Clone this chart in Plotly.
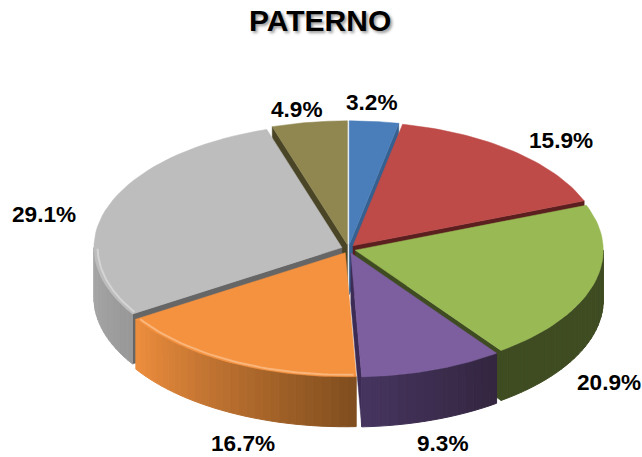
import math
import plotly.graph_objects as go

TITLE = "PATERNO"
values = [3.2, 15.9, 20.9, 9.3, 16.7, 29.1, 4.9]
top_colors = ["#4a7ebb", "#be4b48", "#98b954", "#7d5fa0", "#f59240", "#bdbdbd", "#8f8650"]
wall_left = ["#3a6090", "#7a2a28", "#3f4c22", "#46345f", "#ee8e3e", "#a8a8a8", "#5a5430"]
wall_right = ["#3a6090", "#7a2a28", "#3f4c22", "#33263f", "#7f4d1e", "#989898", "#5a5430"]
cut_colors = ["#35608f", "#5a1f1e", "#3f4c22", "#3c2c55", "#7f4d1e", "#666666", "#4a4526"]
rim_colors = [None, None, None, None, "#f9b57a", "#d4d4d4", None]
label_pos = [(372, 102), (561, 140), (609, 382), (443, 443), (243, 443), (44, 214), (297, 109)]
labels = ["%.1f%%" % v for v in values]
draw_order = [6, 0, 1, 5, 2, 4, 3]

CX, CY, RX, RY, DEPTH, EXPLODE = 348.5, 249, 248, 124, 50, 7


def mix(a, b, t):
    pa = [int(a[i:i + 2], 16) for i in (1, 3, 5)]
    pb = [int(b[i:i + 2], 16) for i in (1, 3, 5)]
    return "#%02x%02x%02x" % tuple(round(x + (y - x) * t) for x, y in zip(pa, pb))


def arc(ax, ay, t0, t1, k=1.0, n=40):
    return [(ax + k * RX * math.sin(t0 + (t1 - t0) * i / n),
             ay - k * RY * math.cos(t0 + (t1 - t0) * i / n)) for i in range(n + 1)]


def poly(fig, pts, color, width=1.0):
    xs = [p[0] for p in pts] + [pts[0][0]]
    ys = [p[1] for p in pts] + [pts[0][1]]
    fig.add_trace(go.Scatter(x=xs, y=ys, mode="lines", fill="toself", fillcolor=color,
                             line=dict(color=color, width=width), hoverinfo="skip", showlegend=False))


fig = go.Figure()
total = sum(values)
edges = [0]
for v in values:
    edges.append(edges[-1] + v / total * 2 * math.pi)

for i in draw_order:
    t0, t1 = edges[i], edges[i + 1]
    mid = (t0 + t1) / 2
    ax = CX + EXPLODE * math.sin(mid)
    ay = CY - EXPLODE * math.cos(mid) * 0.6
    for t, visible in ((t0, math.sin(t0) < -0.02), (t1, math.sin(t1) > 0.02)):
        if visible:
            ex, ey = ax + RX * math.sin(t), ay - RY * math.cos(t)
            poly(fig, [(ax, ay), (ex, ey), (ex, ey + DEPTH), (ax, ay + DEPTH)], cut_colors[i], 0.5)
    a = max(t0, math.pi / 2)
    b = min(t1, 3 * math.pi / 2)
    if b > a:
        n = max(2, int((b - a) / math.radians(2)))
        for k in range(n):
            s0, s1 = a + (b - a) * k / n, a + (b - a) * (k + 1) / n
            up = arc(ax, ay, s0, s1, n=3)
            low = [(x, y + DEPTH) for x, y in reversed(up)]
            poly(fig, up + low, mix(wall_right[i], wall_left[i], (k + 0.5) / n))
    poly(fig, [(ax, ay)] + arc(ax, ay, t0, t1), top_colors[i], 0.5)
    if rim_colors[i]:
        rim = arc(ax, ay, max(t0, math.pi / 2) + 0.01, min(t1, 3 * math.pi / 2) - 0.01, k=0.985)
        fig.add_trace(go.Scatter(x=[p[0] for p in rim], y=[p[1] for p in rim], mode="lines",
                                 line=dict(color=rim_colors[i], width=2),
                                 hoverinfo="skip", showlegend=False))

annotations = [dict(x=x, y=y, xref="x", yref="y", text="<b>%s</b>" % t, showarrow=False,
                    font=dict(family="Liberation Sans", size=22.6, color="#000000"))
               for (x, y), t in zip(label_pos, labels)]
annotations.append(dict(x=320, y=20, xref="x", yref="y", text="<b>%s</b>" % TITLE, showarrow=False,
                        font=dict(family="Liberation Sans", size=30, color="#000000",
                                  shadow="2px 2px 3px #999999")))

fig.update_layout(
    width=642, height=457, margin=dict(l=0, r=0, t=0, b=0),
    paper_bgcolor="#ffffff", plot_bgcolor="#ffffff", showlegend=False,
    xaxis=dict(range=[0, 642], visible=False, fixedrange=True),
    yaxis=dict(range=[457, 0], visible=False, fixedrange=True),
    annotations=annotations,
)
fig.write_html("out.html", config={"displayModeBar": False},
               post_script="document.body.style.margin='0';document.documentElement.style.overflow='hidden';")
